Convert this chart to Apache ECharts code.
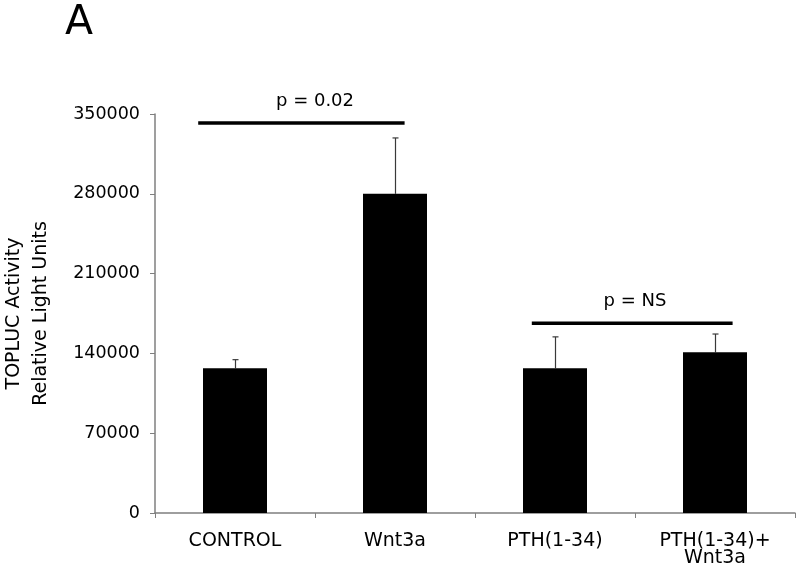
<!DOCTYPE html>
<html>
<head>
<meta charset="utf-8">
<script src="https://cdn.jsdelivr.net/npm/echarts@6/dist/echarts.min.js"></script>
<style>
  html, body { margin: 0; padding: 0; background: #fff; }
  #chart { width: 800px; height: 570px; }
</style>
</head>
<body>
<div id="chart"></div>
<script>
// 分组
const categories = ['CONTROL', 'Wnt3a', 'PTH(1-34)', 'PTH(1-34)+\nWnt3a']
// 均值 & 误差（上）
const means = [127000, 280000, 127000, 141000]
const errors = [7500, 49000, 27500, 16000]
// y 轴刻度
const yTicks = [0, 70000, 140000, 210000, 280000, 350000]
// 显著性标注：起止组、线的高度、文字
const sigFrom = [0, 2]
const sigTo = [1, 3]
const sigLevel = [342000, 166500]
const sigText = ['p = 0.02', 'p = NS']

const font = 'DejaVu Sans, sans-serif'
const axisGray = '#7f7f7f'

const errData = means.map((m, i) => [i, m, m + errors[i]])
const sigData = sigFrom.map((f, i) => [f, sigTo[i], sigLevel[i]])

const option = {
  animation: false,
  backgroundColor: '#fff',
  title: {
    text: 'A',
    left: 60,
    top: -2,
    textStyle: { fontFamily: font, fontSize: 41, fontWeight: 'normal', color: '#000' }
  },
  grid: { left: 155, right: 5, top: 114, bottom: 57, outerBoundsMode: 'none' },
  xAxis: {
    type: 'category',
    data: categories,
    axisLine: { lineStyle: { color: axisGray, width: 1.5 } },
    axisTick: { show: true, length: 5, alignWithLabel: false, lineStyle: { color: axisGray } },
    axisLabel: { fontFamily: font, fontSize: 19, color: '#000', margin: 20, lineHeight: 17, interval: 0 }
  },
  yAxis: {
    type: 'value',
    min: 0,
    max: yTicks[yTicks.length - 1],
    interval: yTicks[1] - yTicks[0],
    name: 'TOPLUC Activity\nRelative Light Units',
    nameLocation: 'middle',
    nameRotate: 90,
    nameGap: 100,
    nameTextStyle: { fontFamily: font, fontSize: 19, color: '#000', lineHeight: 27 },
    axisLine: { show: true, lineStyle: { color: axisGray, width: 1.5 } },
    axisTick: { show: true, length: 5, lineStyle: { color: axisGray } },
    axisLabel: { fontFamily: font, fontSize: 17.5, color: '#000', margin: 15, formatter: v => String(v) },
    splitLine: { show: false }
  },
  series: [
    {
      type: 'bar',
      data: means,
      barWidth: '40%',
      itemStyle: { color: '#000' }
    },
    {
      // 误差线
      type: 'custom',
      data: errData,
      z: 1,
      renderItem: function (params, api) {
        const base = api.coord([api.value(0), api.value(1)])
        const top = api.coord([api.value(0), api.value(2)])
        const x = Math.round(base[0]) + 0.5
        return {
          type: 'group',
          children: [
            { type: 'line', shape: { x1: x, y1: base[1], x2: x, y2: top[1] }, style: { stroke: '#3a3a3a', lineWidth: 1.2 } },
            { type: 'line', shape: { x1: x - 3, y1: top[1], x2: x + 3, y2: top[1] }, style: { stroke: '#3a3a3a', lineWidth: 1.2 } }
          ]
        }
      }
    },
    {
      // 显著性标注
      type: 'custom',
      data: sigData,
      renderItem: function (params, api) {
        const band = api.size([1, 0])[0]
        const a = api.coord([api.value(0), api.value(2)])
        const b = api.coord([api.value(1), api.value(2)])
        const idx = params.dataIndex
        const x1 = a[0] - band * (idx === 0 ? 0.23 : 0.145)
        const x2 = b[0] + band * (idx === 0 ? 0.06 : 0.11)
        return {
          type: 'group',
          children: [
            { type: 'line', shape: { x1: x1, y1: a[1], x2: x2, y2: a[1] }, style: { stroke: '#000', lineWidth: 3.5 } },
            {
              type: 'text',
              x: (a[0] + b[0]) / 2,
              y: a[1] - 22,
              style: { text: sigText[idx], fontFamily: font, fontSize: 18, fill: '#000', align: 'center', verticalAlign: 'middle' }
            }
          ]
        }
      }
    }
  ]
}

const myChart = echarts.init(document.getElementById('chart'))
myChart.setOption(option)
</script>
</body>
</html>
